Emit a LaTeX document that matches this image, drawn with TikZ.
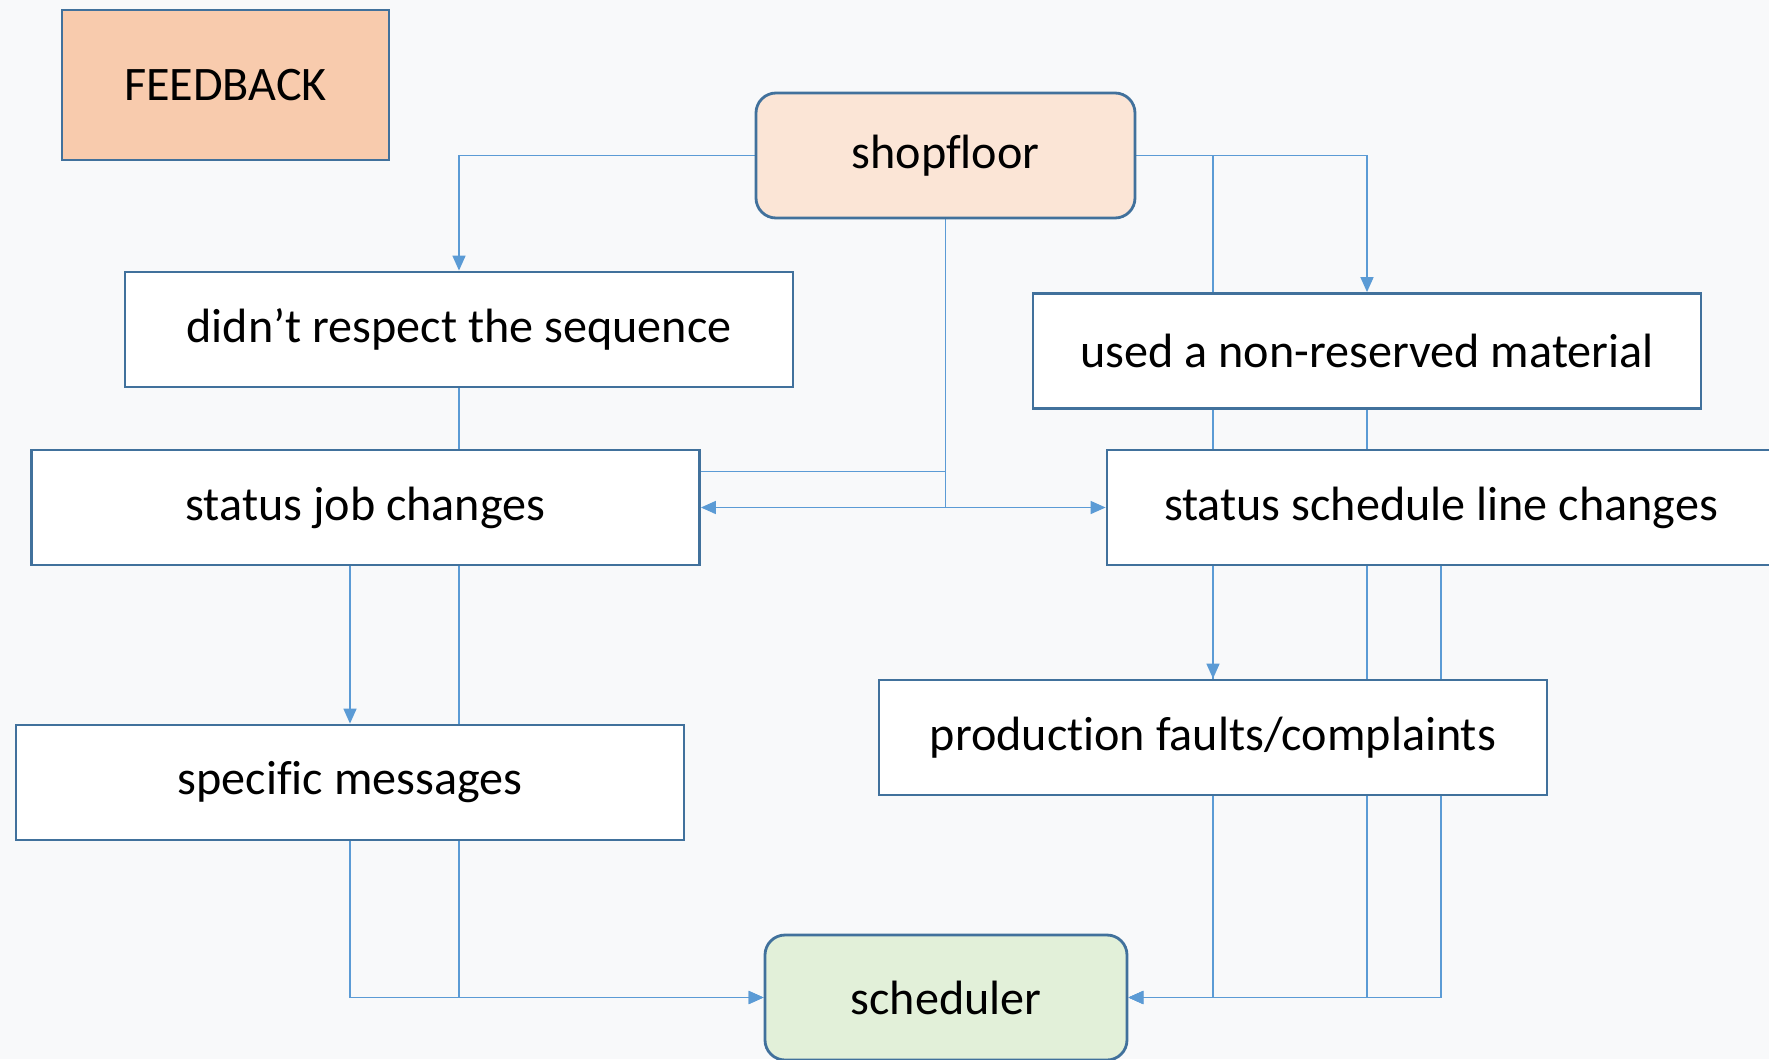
\documentclass[tikz,border=0pt]{standalone}
\usepackage{fontspec}
\setmainfont{Carlito}[Ligatures=NoCommon]
\usetikzlibrary{arrows.meta,calc}

\definecolor{boxline}{HTML}{41719C}
\definecolor{linkline}{HTML}{5B9BD5}
\definecolor{feedfill}{HTML}{F8CBAD}
\definecolor{shopfill}{HTML}{FBE5D6}
\definecolor{schedfill}{HTML}{E2F0D9}
\definecolor{slidebg}{HTML}{F8F9FA}

\pgfdeclarelayer{bg}
\pgfdeclarelayer{links}
\pgfsetlayers{bg,links,main}

\begin{document}
\begin{tikzpicture}[
    box/.style={draw=boxline,line width=0.8pt,fill=white,inner sep=0pt,
      minimum width=6.68cm,minimum height=1.15cm,
      font=\fontsize{13.7}{16}\selectfont},
    endpoint/.style={box,rounded corners=0.2cm,minimum width=3.7cm,minimum height=1.25cm},
    link/.style={draw=linkline,line width=0.45pt},
    arrow/.style={link,-{Triangle[length=0.15cm,width=0.13cm]}}]
  % slide area
  \begin{pgfonlayer}{bg}
    \fill[slidebg] (0,0) rectangle (17.69,-10.59);
  \end{pgfonlayer}
  \useasboundingbox (0,0) rectangle (17.69,-10.59);
  \clip (0,0) rectangle (17.69,-10.59);

  % title box
  \node[box,fill=feedfill,minimum width=3.27cm,minimum height=1.5cm] (feedback) at (2.255,-0.85) {FEEDBACK};

  % source and target
  \node[endpoint,fill=shopfill,minimum width=3.79cm] (shop) at (9.455,-1.555) {shopfloor};
  \node[endpoint,fill=schedfill,minimum width=3.62cm] (sched) at (9.46,-9.975) {scheduler};

  % feedback kinds
  \node[box] (sequence) at (4.59,-3.295) {didn’t respect the sequence};
  \node[box] (material) at (13.67,-3.51) {used a non-reserved material};
  \node[box] (jobstatus) at (3.655,-5.075) {status job changes};
  \node[box] (linestatus) at (14.41,-5.075) {status schedule line changes};
  \node[box] (messages) at (3.50,-7.825) {specific messages};
  \node[box] (faults) at (12.13,-7.375) {production faults/complaints};

  \begin{pgfonlayer}{links}
    % left side
    \draw[arrow] (shop.west) -| (sequence.north);
    \draw[arrow] (sequence.south) |- (sched.west);
    \draw[arrow] (jobstatus.south -| messages.north) -- (messages.north);
    \draw[arrow] (messages.south) |- (sched.west);
    % middle
    \draw[arrow] (shop.south) |- (jobstatus.east);
    \draw[arrow] (shop.south) |- (linestatus.west);
    \draw[link] (shop.south) |- ([yshift=0.36cm]jobstatus.east);
    % right side
    \draw[arrow] (shop.east) -| (material.north);
    \coordinate (turn) at (faults.center |- sched.east);
    \draw[arrow] (shop.east) -| (turn) -- (sched.east);
    \draw[arrow] (linestatus.south -| faults.north) -- (faults.north);
    \draw[arrow] (material.south) |- (sched.east);
    \draw[arrow] (linestatus.south) |- (sched.east);
  \end{pgfonlayer}
\end{tikzpicture}
\end{document}
